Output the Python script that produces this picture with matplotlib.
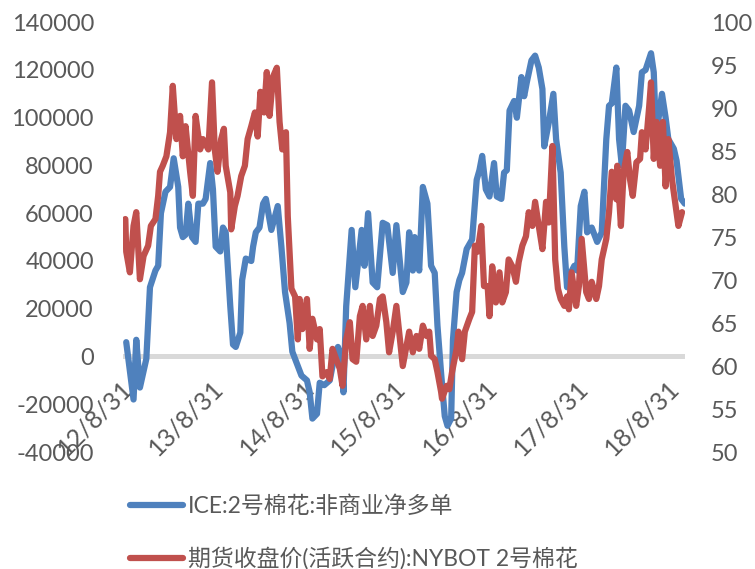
import numpy as np
import pandas as pd
import matplotlib
matplotlib.use("Agg")
import matplotlib.pyplot as plt
import matplotlib.transforms as mtransforms
from matplotlib.lines import Line2D

plt.rcParams['font.family'] = ['Lato', 'Noto Sans CJK SC', 'DejaVu Sans']

# ---- data (decimal years, values) ----
blue_t = [2012.70, 2012.78, 2012.81, 2012.85, 2012.92, 2012.96, 2013.02, 2013.05, 2013.08, 2013.13,
          2013.18, 2013.22, 2013.27, 2013.29, 2013.32, 2013.35, 2013.38, 2013.42, 2013.46, 2013.49,
          2013.54, 2013.57, 2013.62, 2013.65, 2013.68, 2013.73, 2013.76, 2013.79, 2013.84, 2013.87,
          2013.90, 2013.95, 2013.97, 2014.01, 2014.07, 2014.09, 2014.12, 2014.16, 2014.20, 2014.23,
          2014.29, 2014.36, 2014.40, 2014.44, 2014.49, 2014.52, 2014.58, 2014.62, 2014.68, 2014.71,
          2014.74, 2014.79, 2014.82, 2014.87, 2014.93, 2014.98, 2015.02, 2015.06, 2015.08, 2015.11,
          2015.17, 2015.21, 2015.28, 2015.31, 2015.35, 2015.40, 2015.45, 2015.51, 2015.56, 2015.62,
          2015.66, 2015.73, 2015.77, 2015.80, 2015.84, 2015.86, 2015.91, 2015.95, 2016.00, 2016.04,
          2016.08, 2016.11, 2016.15, 2016.19, 2016.22, 2016.26, 2016.28, 2016.32, 2016.35, 2016.38,
          2016.43, 2016.46, 2016.49, 2016.54, 2016.57, 2016.60, 2016.64, 2016.68, 2016.73, 2016.76,
          2016.81, 2016.84, 2016.87, 2016.90, 2016.95, 2016.98, 2017.03, 2017.06, 2017.09, 2017.14,
          2017.18, 2017.22, 2017.26, 2017.28, 2017.33, 2017.38, 2017.41, 2017.46, 2017.50, 2017.53,
          2017.57, 2017.61, 2017.64, 2017.68, 2017.72, 2017.75, 2017.80, 2017.86, 2017.91, 2017.96,
          2017.99, 2018.02, 2018.07, 2018.10, 2018.13, 2018.17, 2018.21, 2018.26, 2018.32, 2018.35,
          2018.39, 2018.45, 2018.48, 2018.50, 2018.53, 2018.57, 2018.61, 2018.64, 2018.70, 2018.73,
          2018.78, 2018.82]
blue_v = [6000, -18000, 7000, -13000, -1000, 29000, 36000, 38000, 60000, 69000,
          71000, 83000, 71000, 54000, 50000, 51000, 64000, 50000, 48000, 64000,
          64000, 66000, 81000, 70000, 46000, 44000, 54000, 52000, 21000, 5000,
          4000, 10000, 32000, 41000, 40000, 46000, 52000, 54000, 64000, 66000,
          53000, 63000, 46000, 27000, 14000, 2000, -4000, -8000, -10000, -15000,
          -26000, -24000, -11000, -12000, -10000, 0, 4000, -1000, -15000, 21000,
          53000, 29000, 53000, 38000, 60000, 31000, 29000, 56000, 55000, 35000,
          55000, 27000, 31000, 52000, 36000, 50000, 36000, 71000, 64000, 38000,
          35000, 13000, -7000, -25000, -29000, -26000, 7000, 27000, 32000, 35000,
          45000, 47000, 49000, 74000, 78000, 84000, 70000, 67000, 81000, 67000,
          66000, 77000, 78000, 103000, 107000, 100000, 117000, 109000, 115000, 124000,
          126000, 121000, 112000, 88000, 98000, 110000, 91000, 77000, 46000, 29000,
          35000, 38000, 36000, 63000, 69000, 52000, 54000, 48000, 52000, 91000,
          105000, 106000, 121000, 91000, 80000, 105000, 103000, 94000, 105000, 119000,
          120000, 127000, 119000, 98000, 99000, 110000, 100000, 91000, 87000, 82000,
          66000, 64000]

red_t = [2012.69, 2012.70, 2012.74, 2012.78, 2012.81, 2012.85, 2012.89, 2012.94, 2012.97, 2013.02,
         2013.05, 2013.07, 2013.10, 2013.14, 2013.18, 2013.21, 2013.25, 2013.29, 2013.32, 2013.35,
         2013.40, 2013.43, 2013.46, 2013.51, 2013.54, 2013.60, 2013.64, 2013.67, 2013.70, 2013.74,
         2013.77, 2013.79, 2013.84, 2013.85, 2013.89, 2013.92, 2013.96, 2014.00, 2014.03, 2014.07,
         2014.11, 2014.14, 2014.17, 2014.21, 2014.24, 2014.27, 2014.31, 2014.35, 2014.38, 2014.41,
         2014.45, 2014.47, 2014.51, 2014.55, 2014.58, 2014.60, 2014.63, 2014.68, 2014.71, 2014.74,
         2014.79, 2014.82, 2014.85, 2014.90, 2014.93, 2014.96, 2015.00, 2015.04, 2015.07, 2015.11,
         2015.15, 2015.18, 2015.22, 2015.26, 2015.29, 2015.33, 2015.37, 2015.40, 2015.44, 2015.48,
         2015.51, 2015.55, 2015.58, 2015.62, 2015.66, 2015.69, 2015.73, 2015.77, 2015.80, 2015.84,
         2015.88, 2015.91, 2015.95, 2015.99, 2016.02, 2016.04, 2016.08, 2016.11, 2016.15, 2016.16,
         2016.21, 2016.24, 2016.27, 2016.32, 2016.34, 2016.38, 2016.41, 2016.46, 2016.49, 2016.52,
         2016.55, 2016.59, 2016.62, 2016.66, 2016.68, 2016.71, 2016.75, 2016.79, 2016.82, 2016.86,
         2016.89, 2016.93, 2016.97, 2017.00, 2017.04, 2017.08, 2017.11, 2017.15, 2017.18, 2017.22,
         2017.26, 2017.30, 2017.33, 2017.37, 2017.40, 2017.43, 2017.46, 2017.50, 2017.53, 2017.55,
         2017.58, 2017.63, 2017.66, 2017.69, 2017.74, 2017.77, 2017.80, 2017.85, 2017.88, 2017.91,
         2017.96, 2017.99, 2018.02, 2018.07, 2018.08, 2018.12, 2018.15, 2018.19, 2018.22, 2018.25,
         2018.29, 2018.33, 2018.35, 2018.39, 2018.43, 2018.45, 2018.48, 2018.51, 2018.55, 2018.58,
         2018.61, 2018.64, 2018.68, 2018.72, 2018.75, 2018.79]
red_v = [77.1, 73.3, 70.9, 76.3, 77.9, 70.1, 72.8, 74.0, 76.3, 77.1,
         79.8, 82.6, 83.3, 84.4, 87.2, 92.6, 86.4, 89.1, 84.4, 87.9,
         82.6, 79.8, 89.1, 85.2, 86.4, 85.2, 93.0, 85.2, 82.6, 86.4,
         87.6, 83.3, 80.2, 75.9, 78.6, 79.8, 82.1, 83.3, 86.4, 87.9,
         89.5, 86.7, 91.9, 89.5, 94.2, 89.1, 93.7, 94.7, 88.4, 85.2,
         87.2, 77.4, 69.0, 68.1, 63.1, 67.8, 64.3, 67.8, 62.0, 65.5,
         63.1, 64.3, 58.8, 59.3, 58.5, 62.0, 60.8, 59.7, 57.7, 63.1,
         65.1, 60.8, 60.5, 65.8, 67.0, 63.1, 67.0, 63.5, 64.7, 67.8,
         68.1, 65.1, 61.6, 64.0, 67.0, 64.0, 60.0, 62.3, 64.0, 61.6,
         63.5, 62.0, 64.7, 63.5, 64.0, 61.2, 60.8, 59.3, 57.0, 56.2,
         57.7, 57.3, 59.3, 62.0, 64.0, 60.8, 64.0, 65.5, 66.3, 74.0,
         73.3, 76.3, 69.3, 69.3, 65.8, 71.6, 67.4, 70.9, 67.4, 68.6,
         72.4, 71.6, 69.8, 72.1, 74.0, 75.1, 77.9, 76.3, 79.1, 76.3,
         73.6, 79.1, 76.7, 85.6, 72.4, 69.0, 67.8, 67.0, 68.1, 66.6,
         70.9, 67.0, 69.3, 74.8, 68.6, 67.8, 69.8, 67.8, 69.3, 72.4,
         74.8, 77.9, 82.6, 79.4, 83.3, 76.3, 82.6, 84.9, 81.7, 79.8,
         83.7, 84.1, 87.2, 85.2, 90.2, 93.0, 84.1, 88.4, 83.3, 88.4,
         80.9, 86.4, 81.7, 78.6, 76.3, 77.9]

tick_dates = ['2012-08-31', '2013-08-31', '2014-08-31', '2015-08-31',
              '2016-08-31', '2017-08-31', '2018-08-31']
tick_labels = ['12/8/31', '13/8/31', '14/8/31', '15/8/31', '16/8/31', '17/8/31', '18/8/31']
left_ticks = list(range(-40000, 140001, 20000))
right_ticks = list(range(50, 101, 5))
label_blue = 'ICE:2号棉花:非商业净多单'
label_red = '期货收盘价(活跃合约):NYBOT 2号棉花'


def to_dates(ts):
    ts = np.asarray(ts, dtype=float)
    return pd.Timestamp('2012-01-01') + pd.to_timedelta((ts - 2012.0) * 365.25, unit='D')


BLUE = '#4F81BD'
RED = '#C0504D'
TXT = '#595959'
FS = 17

fig = plt.figure(figsize=(7.55, 5.69), dpi=100)
ax = fig.add_axes([0.163, 0.2056, 0.744, 0.7554])
ax2 = ax.twinx()
ax.spines['bottom'].set_position(('data', 0))

ax.axhline(0, color='#D9D9D9', lw=3.6, zorder=1)
ax.plot(to_dates(blue_t), blue_v, color=BLUE, lw=4.5, solid_joinstyle='round',
        solid_capstyle='round', zorder=3)
ax2.plot(to_dates(red_t), red_v, color=RED, lw=4.5, solid_joinstyle='round',
         solid_capstyle='round', zorder=3)

ax.set_xlim(pd.Timestamp('2012-08-31'), pd.Timestamp('2018-10-27'))
ax.set_ylim(-40000, 140000)
ax2.set_ylim(50, 100)

ax.set_yticks(left_ticks)
ax.set_yticklabels([str(v) for v in left_ticks])
ax2.set_yticks(right_ticks)
ax2.set_yticklabels([str(v) for v in right_ticks])

for a in (ax, ax2):
    for s in a.spines.values():
        s.set_visible(False)
    a.tick_params(length=0, labelsize=FS, labelcolor=TXT)
ax.tick_params(axis='y', pad=21)
ax2.tick_params(axis='y', pad=19)
ax.tick_params(axis='x', pad=20, labelsize=18)

ax.set_xticks(pd.to_datetime(tick_dates))
ax.set_xticklabels(tick_labels)
shift = mtransforms.ScaledTranslation(5 / 100, 0, fig.dpi_scale_trans)
for lab in ax.get_xticklabels():
    lab.set_rotation(45)
    lab.set_rotation_mode('anchor')
    lab.set_ha('right')
    lab.set_va('center')
    lab.set_transform(lab.get_transform() + shift)

handles = [Line2D([], [], color=BLUE, lw=4.5, solid_capstyle='round'),
           Line2D([], [], color=RED, lw=4.5, solid_capstyle='round')]
fig.legend(handles, [label_blue, label_red], loc='center left',
           bbox_to_anchor=(0.172, 0.064), frameon=False, fontsize=16.5,
           labelcolor=TXT, handlelength=2.3, handletextpad=0.25,
           labelspacing=1.32, borderpad=0, borderaxespad=0)

fig.savefig('out.png', dpi=100)
